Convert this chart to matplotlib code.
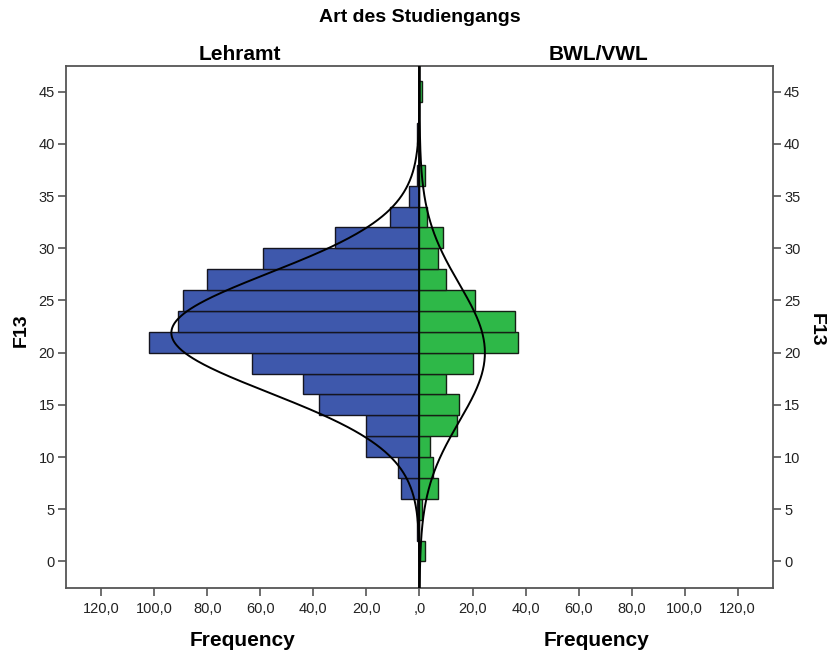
import numpy as np
import matplotlib
matplotlib.use("Agg")
import matplotlib.pyplot as plt

plt.rcParams['font.family'] = ['Liberation Sans', 'DejaVu Sans']

# ---- data ----
bin_starts = [0, 2, 4, 6, 8, 10, 12, 14, 16, 18, 20, 22,
              24, 26, 28, 30, 32, 34, 36, 38, 40, 42, 44, 46]
lehramt = [0, 1, 1, 7, 8, 20, 20, 38, 44, 63, 102, 91,
           89, 80, 59, 32, 11, 4, 1, 0, 1, 0, 0, 0]
bwl_vwl = [2, 0, 1, 7, 5, 4, 14, 15, 10, 20, 37, 36,
           21, 10, 7, 9, 3, 0, 2, 0, 0, 0, 1, 0]
bin_width = 2
# normal curve parameters (mean, sd)
lehramt_fit = (21.9, 5.73)
bwl_fit = (20.0, 6.6)
group_names = ["Lehramt", "BWL/VWL"]
x_ticks = [-120, -100, -80, -60, -40, -20, 0, 20, 40, 60, 80, 100, 120]
y_ticks = [0, 5, 10, 15, 20, 25, 30, 35, 40, 45]

blue = "#3E58AC"
green = "#2EB848"
frame_col = "#555555"

fig = plt.figure(figsize=(8.29, 6.55), dpi=100)
ax = fig.add_axes([66 / 829, 1 - 588 / 655, 707 / 829, 522 / 655])

centers = np.array(bin_starts) + bin_width / 2
ax.barh(centers, -np.array(lehramt), height=bin_width, color=blue,
        edgecolor="#151520", linewidth=1.0, zorder=2)
ax.barh(centers, np.array(bwl_vwl), height=bin_width, color=green,
        edgecolor="#152015", linewidth=1.0, zorder=2)

yy = np.linspace(-2.5, 47.5, 600)
def curve(n, mean, sd):
    return n * bin_width * np.exp(-0.5 * ((yy - mean) / sd) ** 2) / (sd * np.sqrt(2 * np.pi))

ax.plot(-curve(sum(lehramt), *lehramt_fit), yy, color="black", lw=1.4, zorder=4)
ax.plot(curve(sum(bwl_vwl), *bwl_fit), yy, color="black", lw=1.4, zorder=4)
ax.axvline(0, color="black", lw=1.3, zorder=3)

ax.set_xlim(-133.3, 133.3)
ax.set_ylim(-2.54, 47.46)

ax.set_xticks(x_ticks)
ax.set_xticklabels([(f"{abs(v):.1f}".replace(".", ",") if v != 0 else ",0") for v in x_ticks])
ax.set_yticks(y_ticks)
ax.set_yticklabels([str(v) for v in y_ticks])
ax.tick_params(axis="both", direction="out", length=6, width=1.2, color=frame_col,
               labelsize=10.5, labelcolor="#222222", pad=2)
ax.tick_params(axis="y", left=True, right=True, labelleft=True, labelright=True)
ax.tick_params(axis="x", pad=4)
for s in ax.spines.values():
    s.set_color(frame_col)
    s.set_linewidth(1.3)

fig.text(0.5 * (66 + 773) / 829, 1 - 18 / 655, "Art des Studiengangs", ha="center", va="center",
         fontsize=14, fontweight="bold")
fig.text(240 / 829, 1 - 55 / 655, group_names[0], ha="center", va="center",
         fontsize=15, fontweight="bold")
fig.text(598 / 829, 1 - 55 / 655, group_names[1], ha="center", va="center",
         fontsize=15, fontweight="bold")
fig.text(243 / 829, 1 - 640 / 655, "Frequency", ha="center", va="center",
         fontsize=15, fontweight="bold")
fig.text(597 / 829, 1 - 640 / 655, "Frequency", ha="center", va="center",
         fontsize=15, fontweight="bold")
fig.text(21 / 829, 1 - 330 / 655, "F13", ha="center", va="center", rotation=90,
         fontsize=14, fontweight="bold")
fig.text(816 / 829, 1 - 330 / 655, "F13", ha="center", va="center", rotation=-90,
         fontsize=14, fontweight="bold")

fig.savefig("out.png", dpi=100, facecolor="white")
